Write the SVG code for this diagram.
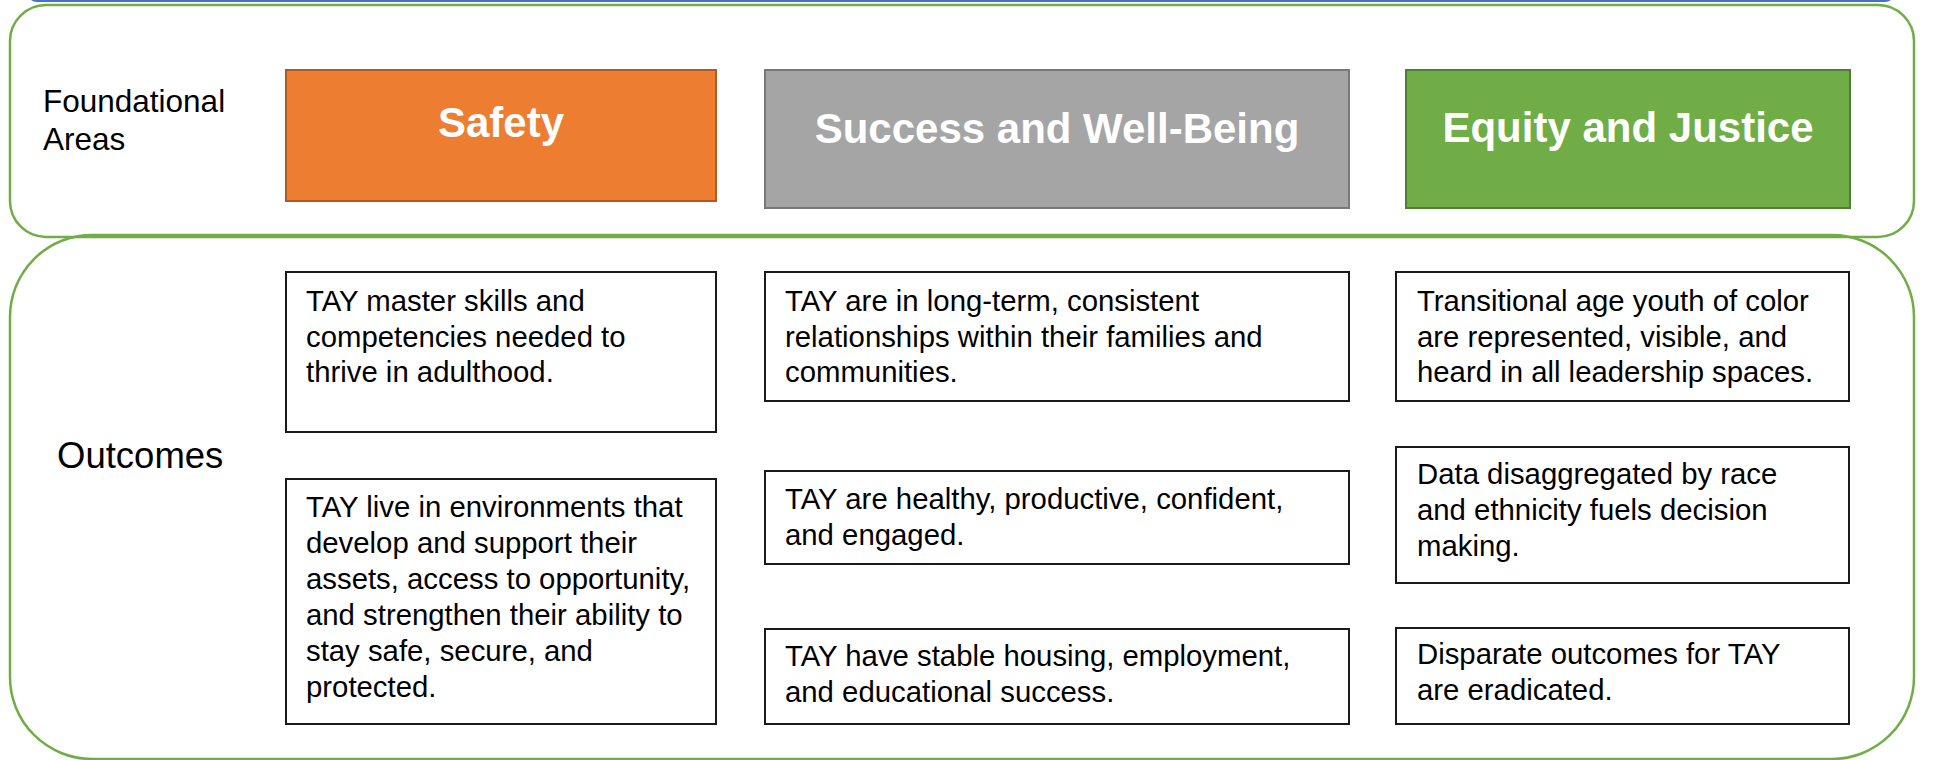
<svg xmlns="http://www.w3.org/2000/svg" width="1933" height="760" viewBox="0 0 1933 760">
<style>
.frame{fill:none;stroke:#70AD47;stroke-width:2.5}
.hdr{font-family:"Liberation Sans",Arial,sans-serif;font-weight:bold;font-size:42px;fill:#FFFFFF;text-anchor:middle}
.lbl{font-family:"Liberation Sans",Arial,sans-serif;fill:#000000}
.box{fill:#FFFFFF;stroke:#1a1a1a;stroke-width:2}
.txt{font-family:"Liberation Sans",Arial,sans-serif;font-size:29.33px;fill:#000000}
</style>
<rect width="1933" height="760" fill="#FFFFFF"/>
<rect x="27" y="-40" width="1868" height="42" rx="10" fill="#4472C4"/>
<g id="frames">
<rect class="frame" x="10" y="5" width="1904" height="232" rx="36"/>
<rect class="frame" x="10" y="235" width="1904" height="524" rx="82"/>
</g>
<g id="label-foundational">
<text class="lbl" font-size="31.5" x="43" y="112">Foundational</text>
<text class="lbl" font-size="31.5" x="43" y="150">Areas</text>
</g>
<g id="label-outcomes">
<text class="lbl" font-size="36.5" x="57" y="468">Outcomes</text>
</g>
<g id="hdr-safety">
<rect x="286" y="70" width="430" height="131" fill="#ED7D31" stroke="#AE5A21" stroke-width="2"/>
<text class="hdr" x="501" y="137">Safety</text>
</g>
<g id="hdr-success">
<rect x="765" y="70" width="584" height="138" fill="#A5A5A5" stroke="#787878" stroke-width="2"/>
<text class="hdr" x="1057" y="142.5">Success and Well-Being</text>
</g>
<g id="hdr-equity">
<rect x="1406" y="70" width="444" height="138" fill="#70AD47" stroke="#507E32" stroke-width="2"/>
<text class="hdr" x="1628" y="142">Equity and Justice</text>
</g>
<g id="safety-1">
<rect class="box" x="286" y="272" width="430" height="160"/>
<text class="txt" x="306"><tspan x="306" y="311">TAY master skills and</tspan><tspan x="306" y="346.5">competencies needed to</tspan><tspan x="306" y="382">thrive in adulthood.</tspan></text>
</g>
<g id="safety-2">
<rect class="box" x="286" y="479" width="430" height="245"/>
<text class="txt" x="306"><tspan x="306" y="517">TAY live in environments that</tspan><tspan x="306" y="553">develop and support their</tspan><tspan x="306" y="589">assets, access to opportunity,</tspan><tspan x="306" y="625">and strengthen their ability to</tspan><tspan x="306" y="661">stay safe, secure, and</tspan><tspan x="306" y="697">protected.</tspan></text>
</g>
<g id="success-1">
<rect class="box" x="765" y="272" width="584" height="129"/>
<text class="txt" x="785"><tspan x="785" y="311">TAY are in long-term, consistent</tspan><tspan x="785" y="346.5">relationships within their families and</tspan><tspan x="785" y="382">communities.</tspan></text>
</g>
<g id="success-2">
<rect class="box" x="765" y="471" width="584" height="93"/>
<text class="txt" x="785"><tspan x="785" y="509">TAY are healthy, productive, confident,</tspan><tspan x="785" y="544.5">and engaged.</tspan></text>
</g>
<g id="success-3">
<rect class="box" x="765" y="629" width="584" height="95"/>
<text class="txt" x="785"><tspan x="785" y="666">TAY have stable housing, employment,</tspan><tspan x="785" y="702">and educational success.</tspan></text>
</g>
<g id="equity-1">
<rect class="box" x="1396" y="272" width="453" height="129"/>
<text class="txt" x="1417"><tspan x="1417" y="311">Transitional age youth of color</tspan><tspan x="1417" y="346.5">are represented, visible, and</tspan><tspan x="1417" y="382">heard in all leadership spaces.</tspan></text>
</g>
<g id="equity-2">
<rect class="box" x="1396" y="447" width="453" height="136"/>
<text class="txt" x="1417"><tspan x="1417" y="484">Data disaggregated by race</tspan><tspan x="1417" y="520">and ethnicity fuels decision</tspan><tspan x="1417" y="556">making.</tspan></text>
</g>
<g id="equity-3">
<rect class="box" x="1396" y="628" width="453" height="96"/>
<text class="txt" x="1417"><tspan x="1417" y="664">Disparate outcomes for TAY</tspan><tspan x="1417" y="700">are eradicated.</tspan></text>
</g>
<g id="connectors"></g>
</svg>
